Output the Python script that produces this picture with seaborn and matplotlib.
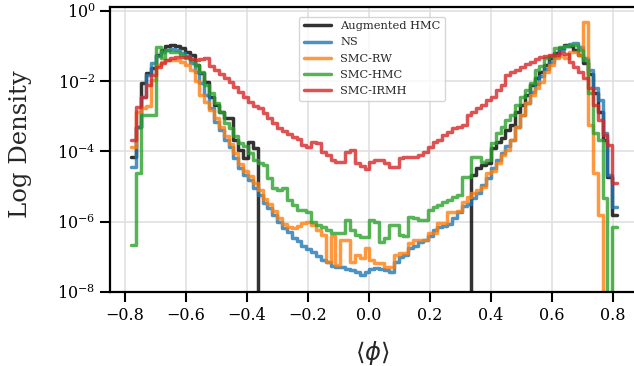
import numpy as np
import pandas as pd
import matplotlib
matplotlib.use("Agg")
import matplotlib.pyplot as plt
import seaborn as sns
from matplotlib.ticker import NullLocator

EMPTY = -np.inf  # bin with no samples

# histogram bin edges on <phi>
edges = np.linspace(-0.778, 0.813, 101)

methods = ["Augmented HMC", "NS", "SMC-RW", "SMC-HMC", "SMC-IRMH"]
colors = ["#000000", "tab:blue", "tab:orange", "tab:green", "tab:red"]

# log10 density per bin
log_aug_hmc = [-4.16, -3.30, -2.05, -1.77, -1.62, -1.25, -1.11, -1.00, -0.97, -1.00,
               -1.05, -1.17, -1.25, -1.54, -1.77, -2.02, -2.45, -2.68, -2.88, -3.05,
               -3.05, -3.68, -3.96, -4.19, -3.73, -3.90] + [EMPTY] * 44 + \
              [-4.67, -4.47, -4.39, -4.33, -3.90, -3.73, -3.62, -3.39, -3.25, -2.88,
               -2.68, -2.39, -2.11, -1.91, -1.74, -1.54, -1.34, -1.20, -1.05, -0.97,
               -1.00, -1.11, -1.25, -1.48, -1.80, -2.34, -2.88, -3.68, -4.73, -5.81]

log_ns = [-4.44, -3.30, -2.45, -1.82, -1.48, -1.28, -1.17, -1.11, -1.08, -1.11,
          -1.20, -1.28, -1.48, -1.74, -2.05, -2.39, -2.76, -3.16, -3.39, -3.68,
          -3.87, -4.19, -4.47, -4.67, -4.81, -5.04, -5.24, -5.47, -5.61, -5.81,
          -6.01, -6.18, -6.30, -6.47, -6.55, -6.70, -6.78, -6.87, -6.98, -7.09,
          -7.15, -7.26, -7.29, -7.29, -7.35, -7.38, -7.44, -7.52, -7.44, -7.35,
          -7.32, -7.35, -7.38, -7.44, -7.15, -7.01, -6.95, -6.75, -6.70, -6.58,
          -6.52, -6.41, -6.24, -6.15, -6.13, -6.07, -5.90, -5.73, -5.56, -5.50,
          -5.33, -5.19, -4.96, -4.76, -4.47, -4.25, -4.05, -3.85, -3.68, -3.30,
          -2.96, -2.62, -2.30, -2.08, -1.85, -1.65, -1.45, -1.31, -1.11, -1.00,
          -0.94, -0.91, -1.03, -1.34, -1.68, -2.19, -2.54, -3.48, -4.67, -5.58]

log_smc_rw = [-3.87, -2.88, -2.76, -2.71, -1.97, -1.54, -1.45, -1.40, -1.40, -1.40,
              -1.45, -1.54, -1.68, -2.00, -2.40, -2.60, -2.82, -3.05, -3.30, -3.55,
              -3.78, -4.05, -4.35, -4.55, -4.70, -4.90, -5.10, -5.35, -5.50, -5.70,
              -5.90, -6.05, -6.15, -6.18, -6.13, -6.04, -6.01, -6.10, -6.24, -6.38,
              -7.15, -6.41, -7.24, -6.52, -6.52, -7.15, -6.95, -7.04, -6.75, -7.09,
              -7.18, -7.18, -7.29, -7.29, -6.95, -6.90, -6.90, -6.61, -6.52, -6.52,
              -6.52, -6.32, -6.32, -6.04, -6.04, -5.73, -5.73, -5.70, -5.44, -5.30,
              -5.19, -5.10, -5.01, -4.62, -4.55, -4.33, -4.10, -3.95, -3.68, -3.30,
              -2.96, -2.62, -2.39, -2.19, -2.02, -1.74, -1.54, -1.34, -1.28, -1.34,
              -1.17, -1.17, -1.25, -0.31, -3.25, -4.62, -5.81, EMPTY, EMPTY, EMPTY]

log_smc_hmc = [-6.67, -4.62, -2.96, -2.96, -2.96, -1.03, -1.34, -1.11, -1.17, -1.17,
               -1.25, -1.34, -1.40, -1.54, -1.74, -2.11, -2.34, -2.62, -2.88, -3.19,
               -3.33, -3.56, -3.76, -3.85, -4.05, -4.25, -4.33, -4.39, -4.76, -5.04,
               -5.10, -5.04, -5.38, -5.53, -5.67, -5.67, -5.73, -6.01, -6.10, -6.15,
               -6.24, -6.32, -6.32, -6.32, -5.95, -6.24, -6.38, -6.44, -6.44, -5.95,
               -6.01, -6.58, -6.47, -6.10, -6.10, -6.38, -6.41, -5.87, -5.90, -5.95,
               -5.95, -5.67, -5.58, -5.53, -5.44, -5.38, -5.30, -5.24, -4.73, -4.73,
               -4.16, -4.16, -4.30, -4.25, -3.76, -3.48, -3.30, -3.11, -2.96, -2.68,
               -2.45, -2.25, -2.05, -1.68, -1.57, -1.34, -1.28, -1.05, -1.03, -1.00,
               -0.97, -0.97, -1.11, -1.40, -2.34, -3.48, -3.68, -5.33, EMPTY, -6.15]

log_smc_irmh = [-3.68, -2.74, -2.45, -2.11, -1.82, -1.60, -1.48, -1.40, -1.34, -1.31,
                -1.31, -1.31, -1.37, -1.40, -1.37, -1.34, -1.57, -1.68, -1.79, -1.91,
                -2.02, -2.17, -2.31, -2.45, -2.59, -2.71, -2.76, -2.91, -3.05, -3.19,
                -3.33, -3.42, -3.50, -3.59, -3.65, -3.82, -3.87, -3.73, -3.76, -4.02,
                -4.10, -4.25, -4.30, -4.30, -4.02, -3.96, -4.33, -4.42, -4.50, -4.30,
                -4.25, -4.25, -4.33, -4.44, -4.44, -4.19, -4.16, -4.16, -4.16, -4.10,
                -4.02, -3.87, -3.73, -3.68, -3.53, -3.45, -3.33, -3.30, -3.25, -2.96,
                -2.88, -2.76, -2.68, -2.54, -2.45, -2.25, -2.11, -1.82, -1.74, -1.68,
                -1.60, -1.51, -1.45, -1.37, -1.31, -1.28, -1.25, -1.25, -1.20, -1.22,
                -1.45, -1.60, -1.74, -1.91, -2.19, -2.68, -3.11, -3.53, -3.82, -4.90]

series = [log_aug_hmc, log_ns, log_smc_rw, log_smc_hmc, log_smc_irmh]

frames = []
for name, logd in zip(methods, series):
    dens = np.power(10.0, np.array(logd))
    # repeat last value so the final bin gets its full width with steps-post
    frames.append(pd.DataFrame({"phi": edges,
                                "density": np.append(dens, dens[-1]),
                                "method": name}))
df = pd.concat(frames, ignore_index=True)

sns.set_style("ticks")
plt.rcParams["font.family"] = ["DejaVu Serif"]
plt.rcParams["axes.edgecolor"] = "black"
plt.rcParams["xtick.color"] = "black"
plt.rcParams["ytick.color"] = "black"

fig = plt.figure(figsize=(6.34, 3.66), dpi=100)
ax = fig.add_axes([0.1735, 0.2022, 0.8265, 0.7787])

sns.lineplot(data=df, x="phi", y="density", hue="method", hue_order=methods,
             palette=dict(zip(methods, colors)), drawstyle="steps-post",
             linewidth=2.5, alpha=0.8, legend=False, ax=ax, estimator=None, sort=False)

ax.set_yscale("log")
ax.set_ylim(1e-8, 10 ** 0.114)
ax.set_xlim(-0.848, 0.868)
ax.set_yticks([1e-8, 1e-6, 1e-4, 1e-2, 1])
ax.yaxis.set_minor_locator(NullLocator())
ax.set_xticks(np.round(np.arange(-0.8, 0.81, 0.2), 1))

ax.grid(True, color="0.88", linewidth=1.2)
ax.set_axisbelow(True)
ax.spines["right"].set_visible(False)
for s in ["left", "bottom", "top"]:
    ax.spines[s].set_linewidth(1.6)
ax.tick_params(labelsize=11.5, width=1.5, length=7)

ax.set_ylabel("Log Density", fontsize=17.5)
ax.yaxis.set_label_coords(-0.149, 0.52)
ax.set_xlabel(r"$\langle\phi\rangle$", fontsize=17.5)
ax.xaxis.set_label_coords(0.5, -0.165)

ax.legend(ax.lines[:5], methods, loc="upper center", fontsize=8.2,
          handlelength=2.4, labelspacing=0.55, borderaxespad=0.85)

fig.savefig("out.png", dpi=100)
